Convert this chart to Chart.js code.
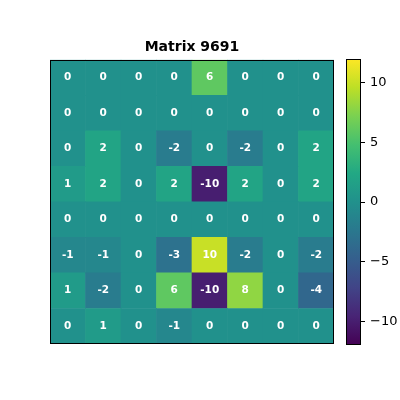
<!DOCTYPE html>
<html>
<head>
<meta charset="utf-8">
<script src="https://cdn.jsdelivr.net/npm/chart.js@4.4.1/dist/chart.umd.min.js"></script>
<style>
  html, body { margin: 0; padding: 0; background: #fff; }
  #wrap { position: relative; width: 400px; height: 400px; }
  canvas { position: absolute; top: 0; }
</style>
</head>
<body>
<div id="wrap">
  <canvas id="heat" width="340" height="400" style="left:0"></canvas>
  <canvas id="cbar" width="60" height="400" style="left:340px"></canvas>
</div>
<script>
// matrix values, top row first
const row0 = [0, 0, 0, 0, 6, 0, 0, 0];
const row1 = [0, 0, 0, 0, 0, 0, 0, 0];
const row2 = [0, 2, 0, -2, 0, -2, 0, 2];
const row3 = [1, 2, 0, 2, -10, 2, 0, 2];
const row4 = [0, 0, 0, 0, 0, 0, 0, 0];
const row5 = [-1, -1, 0, -3, 10, -2, 0, -2];
const row6 = [1, -2, 0, 6, -10, 8, 0, -4];
const row7 = [0, 1, 0, -1, 0, 0, 0, 0];
const rows = [row0, row1, row2, row3, row4, row5, row6, row7];
const columns = ["0", "1", "2", "3", "4", "5", "6", "7"];
const vmin = -12, vmax = 12;
const cbarTicks = [-10, -5, 0, 5, 10];

// viridis colormap
const viridis = ["#440154", "#482475", "#414487", "#355f8d", "#2a788e", "#21918c",
                 "#22a884", "#44bf70", "#7ad151", "#bddf26", "#fde725"];

function hexRgb(h) {
  return [parseInt(h.substr(1, 2), 16), parseInt(h.substr(3, 2), 16), parseInt(h.substr(5, 2), 16)];
}
function cmap(v) {
  let t = (v - vmin) / (vmax - vmin);
  t = Math.max(0, Math.min(1, t));
  const p = t * (viridis.length - 1);
  const i = Math.min(Math.floor(p), viridis.length - 2);
  const f = p - i;
  const a = hexRgb(viridis[i]), b = hexRgb(viridis[i + 1]);
  const c = a.map((x, k) => Math.round(x + (b[k] - x) * f));
  return "rgb(" + c.join(",") + ")";
}

const FONT = "'DejaVu Sans', sans-serif";

// frame around chart area
const frame = {
  id: "frame",
  afterDraw(chart) {
    const a = chart.chartArea, ctx = chart.ctx;
    ctx.save();
    ctx.strokeStyle = "#000";
    ctx.lineWidth = 1;
    ctx.strokeRect(Math.round(a.left) + 0.5, Math.round(a.top) + 0.5,
                   Math.round(a.right - a.left) - 1, Math.round(a.bottom - a.top) - 1);
    ctx.restore();
  }
};

// value labels in cells
const cellText = {
  id: "cellText",
  afterDatasetsDraw(chart) {
    const ctx = chart.ctx;
    ctx.save();
    ctx.fillStyle = "#fff";
    ctx.font = "bold 10.5px " + FONT;
    ctx.textAlign = "center";
    ctx.textBaseline = "middle";
    chart.data.datasets.forEach((ds, di) => {
      const meta = chart.getDatasetMeta(di);
      meta.data.forEach((bar, i) => {
        const yc = (bar.y + bar.base) / 2;
        ctx.fillText(String(ds.values[i]), bar.x, yc);
      });
    });
    ctx.restore();
  }
};

// stacked bars, bottom row first
const datasets = rows.slice().reverse().map(r => ({
  data: r.map(() => 1),
  values: r,
  backgroundColor: r.map(cmap),
  borderWidth: 0,
  barPercentage: 1,
  categoryPercentage: 1
}));

new Chart(document.getElementById("heat"), {
  type: "bar",
  data: { labels: columns, datasets: datasets },
  options: {
    responsive: false,
    animation: false,
    devicePixelRatio: 1,
    layout: { padding: { left: 50, right: 6, top: 0, bottom: 56 } },
    plugins: {
      legend: { display: false },
      tooltip: { enabled: false },
      title: {
        display: true,
        text: "Matrix 9691",
        color: "#000",
        font: { family: FONT, size: 14, weight: "bold", lineHeight: 1.2 },
        padding: { top: 39, bottom: 4 }
      }
    },
    scales: {
      x: { display: false, stacked: true },
      y: { display: false, stacked: true, min: 0, max: 8 }
    }
  },
  plugins: [cellText, frame]
});

// colorbar
new Chart(document.getElementById("cbar"), {
  type: "bar",
  data: {
    labels: [""],
    datasets: [{
      data: [[vmin, vmax]],
      borderWidth: 0,
      barPercentage: 1,
      categoryPercentage: 1,
      backgroundColor(ctx) {
        const a = ctx.chart.chartArea;
        if (!a) return viridis[5];
        const g = ctx.chart.ctx.createLinearGradient(0, a.bottom, 0, a.top);
        viridis.forEach((c, i) => g.addColorStop(i / (viridis.length - 1), c));
        return g;
      }
    }]
  },
  options: {
    responsive: false,
    animation: false,
    devicePixelRatio: 1,
    layout: { padding: { left: 6, right: 0, top: 59, bottom: 55 } },
    plugins: { legend: { display: false }, tooltip: { enabled: false } },
    scales: {
      x: { display: false },
      y: {
        position: "right",
        min: vmin,
        max: vmax,
        afterBuildTicks(scale) { scale.ticks = cbarTicks.map(v => ({ value: v })); },
        afterFit(scale) { scale.width = 39; },
        grid: { drawOnChartArea: false, drawTicks: true, tickLength: 4, color: "#000" },
        border: { display: false },
        ticks: {
          color: "#000",
          padding: 5,
          font: { family: FONT, size: 13 },
          callback: v => String(v).replace("-", "\u2212")
        }
      }
    }
  },
  plugins: [frame]
});
</script>
</body>
</html>
